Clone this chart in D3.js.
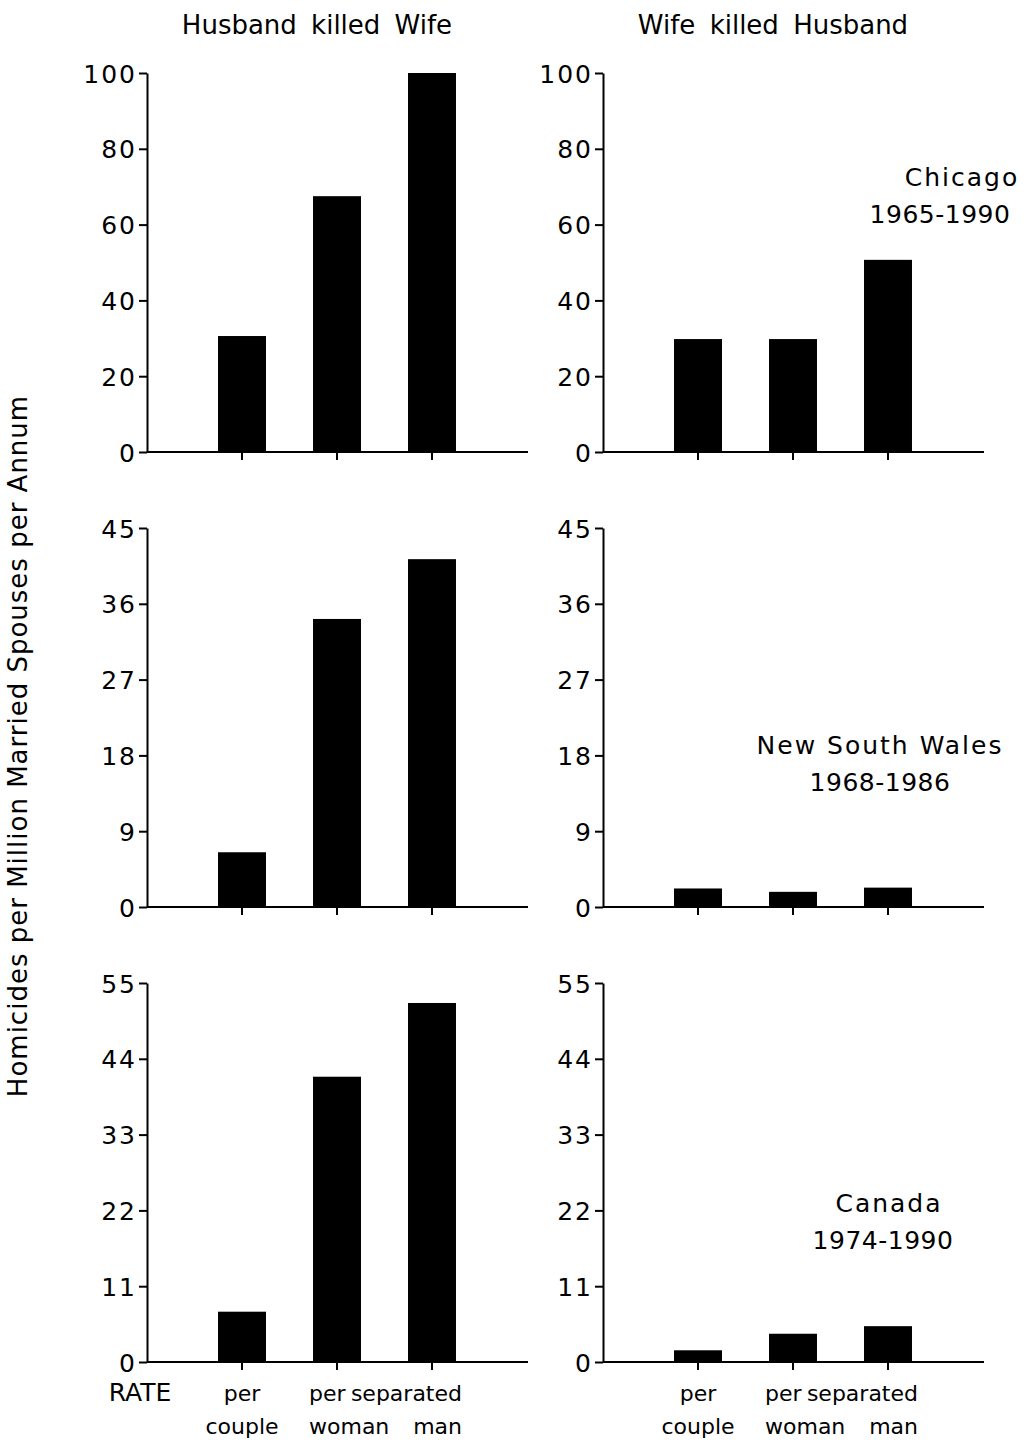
<!DOCTYPE html>
<html>
<head>
<meta charset="utf-8">
<script src="https://cdn.jsdelivr.net/npm/d3@7"></script>
<style>
  body { margin: 0; background: #fff; }
  svg text { font-family: "DejaVu Sans", sans-serif; fill: #000; }
</style>
</head>
<body>
<svg class="figure" width="1031" height="1445"></svg>
<script>

// rate categories along the x-axis
let categories = ["per couple", "per woman", "separated man"];
let rateLine1 = ["per", "per", "separated"];
let rateLine2 = ["couple", "woman", "man"];

// regions (one row each)
let regions = ["Chicago", "New South Wales", "Canada"];
let regionYears = ["1965-1990", "1968-1986", "1974-1990"];

// homicides per million married spouses per annum
let husbandKilledWife = [
  [30.6, 67.5, 100],   // Chicago
  [6.5, 34.2, 41.3],   // New South Wales
  [7.3, 41.4, 52.1]    // Canada
];
let wifeKilledHusband = [
  [29.8, 29.8, 50.7],
  [2.2, 1.8, 2.3],
  [1.7, 4.1, 5.2]
];

// y tick values per row
let ticksChicago = [0, 20, 40, 60, 80, 100];
let ticksNSW = [0, 9, 18, 27, 36, 45];
let ticksCanada = [0, 11, 22, 33, 44, 55];

let columnTitles = ["Husband killed Wife", "Wife killed Husband"];

let drawFigure = function()
{
  let svg = d3.select("body").select(".figure");

  let rowTicks = [ticksChicago, ticksNSW, ticksCanada];
  let columns = [husbandKilledWife, wifeKilledHusband];

  // panel layout (plot origin = bottom of y-axis)
  let colX = [147, 603];
  let rowBottom = [452, 907, 1362];
  let plotHeight = 379;
  let plotWidth = 381;

  // region label placement, inside the right column
  let labelPos = [
    { x1: 962, y1: 186, x2: 940, y2: 223 },
    { x1: 880, y1: 754, x2: 880, y2: 791 },
    { x1: 889, y1: 1212, x2: 883, y2: 1249 }
  ];

  let xScale = d3.scaleBand()
    .domain(categories)
    .range([47.5, 332.5])
    .paddingInner(0.495)
    .paddingOuter(0.2475);

  columns.forEach(function(colData, c) {
    // column title
    svg.append("text")
      .attr("x", colX[c] + 170)
      .attr("y", 34)
      .attr("text-anchor", "middle")
      .style("font-size", "26px")
      .style("word-spacing", "6px")
      .text(columnTitles[c]);

    rowTicks.forEach(function(ticks, r) {
      let values = colData[r];

      let yScale = d3.scaleLinear()
        .domain([0, d3.max(ticks)])
        .range([plotHeight, 0]);

      let plot = svg.append("g")
        .attr("class", "panel")
        .attr("transform", translate(colX[c], rowBottom[r] - plotHeight));

      // bars
      plot.selectAll("rect")
        .data(values)
        .join("rect")
          .attr("x", (d, i) => xScale(categories[i]))
          .attr("y", d => yScale(d))
          .attr("width", xScale.bandwidth())
          .attr("height", d => plotHeight - yScale(d))
          .attr("fill", "#000");

      // y axis
      let yAxis = d3.axisLeft(yScale)
        .tickValues(ticks)
        .tickSize(8)
        .tickSizeOuter(0)
        .tickPadding(2);

      let yGroup = plot.append("g").attr("class", "y-axis").call(yAxis);
      yGroup.selectAll("text")
        .style("font-size", "25px")
        .style("letter-spacing", "2px")
        .style("font-family", "'DejaVu Sans', sans-serif")
        .attr("dy", "0.36em");

      // x axis: no labels, ticks pointing down
      let xAxis = d3.axisBottom(xScale)
        .tickSize(8)
        .tickSizeOuter(0)
        .tickFormat("");

      let xGroup = plot.append("g")
        .attr("class", "x-axis")
        .attr("transform", translate(0, plotHeight))
        .call(xAxis);
      xGroup.select(".domain").attr("d", "M0,0H" + plotWidth);

      svg.selectAll(".domain, .tick line")
        .attr("stroke", "#000")
        .attr("stroke-width", 2);
    });
  });

  // region labels
  regions.forEach(function(name, r) {
    let p = labelPos[r];
    svg.append("text")
      .attr("x", p.x1).attr("y", p.y1)
      .attr("text-anchor", "middle")
      .style("font-size", "25px")
      .style("letter-spacing", "2px")
      .text(name);
    svg.append("text")
      .attr("x", p.x2).attr("y", p.y2)
      .attr("text-anchor", "middle")
      .style("font-size", "25px")
      .style("letter-spacing", "0.5px")
      .text(regionYears[r]);
  });

  // rate labels under the bottom row
  let anchors = ["middle", "start", "end"];
  let shifts = [0, -28, 30];
  colX.forEach(function(x0) {
    categories.forEach(function(cat, i) {
      let cx = x0 + xScale(cat) + xScale.bandwidth() / 2 + shifts[i];
      svg.append("text")
        .attr("x", cx).attr("y", 1401)
        .attr("text-anchor", anchors[i])
        .style("font-size", "22px")
        .text(rateLine1[i]);
      svg.append("text")
        .attr("x", cx).attr("y", 1434)
        .attr("text-anchor", anchors[i])
        .style("font-size", "22px")
        .text(rateLine2[i]);
    });
  });

  svg.append("text")
    .attr("x", 140).attr("y", 1401)
    .attr("text-anchor", "middle")
    .style("font-size", "25px")
    .text("RATE");

  // y-axis label
  svg.append("text")
    .attr("transform", translate(27, 746) + " rotate(-90)")
    .attr("text-anchor", "middle")
    .style("font-size", "26px")
    .style("letter-spacing", "1px")
    .text("Homicides per Million Married Spouses per Annum");
};

function translate(x, y) {
  return 'translate(' + x + ',' + y + ')';
}

drawFigure();
</script>
</body>
</html>
